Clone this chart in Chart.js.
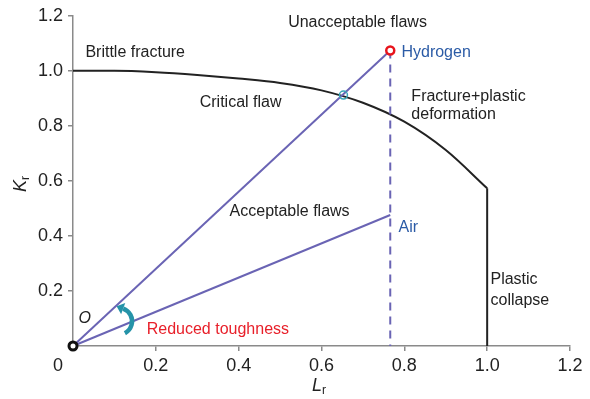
<!DOCTYPE html>
<html lang="en">
<head>
    <meta charset="UTF-8">
    <title>Failure assessment diagram</title>
    <script src="https://cdn.jsdelivr.net/npm/chart.js"></script>
    <style>
        html, body { margin: 0; padding: 0; background: #fff; overflow: hidden; }
        #fad { display: block; width: 590px; height: 399px; }
    </style>
</head>
<body>
    <canvas id="fad" width="590" height="399"></canvas>
    <script>
        // failure assessment curve
        const curveLr = [0, 0.1, 0.2, 0.3, 0.4, 0.5, 0.6, 0.7, 0.8, 0.9, 1.0];
        const curveKr = [1.0, 1.0, 0.995, 0.985, 0.972, 0.956, 0.929, 0.884, 0.815, 0.712, 0.573];
        // plastic collapse cut-off
        const collapseLr = [1.0, 1.0];
        const collapseKr = [0.573, 0];
        // loading paths from the origin
        const hydrogenLr = [0, 0.766];
        const hydrogenKr = [0, 1.074];
        const airLr = [0, 0.766];
        const airKr = [0, 0.476];
        const dashLr = [0.766, 0.766];
        const dashKr = [1.074, 0];
        const criticalLr = [0.653];
        const criticalKr = [0.912];
        const originLr = [0];
        const originKr = [0];
        const tickValues = [0.2, 0.4, 0.6, 0.8, 1.0, 1.2];

        // labels placed in data coordinates
        const notes = [
            { text: 'Unacceptable flaws', x: 0.687, y: 1.175, color: '#222', align: 'center' },
            { text: 'Brittle fracture', x: 0.03, y: 1.066, color: '#222' },
            { text: 'Critical flaw', x: 0.306, y: 0.883, color: '#222' },
            { text: 'Hydrogen', x: 0.793, y: 1.066, color: '#2b5ba6' },
            { text: 'Fracture+plastic', x: 0.817, y: 0.905, color: '#222' },
            { text: 'deformation', x: 0.817, y: 0.84, color: '#222' },
            { text: 'Acceptable flaws', x: 0.378, y: 0.49, color: '#222' },
            { text: 'Air', x: 0.786, y: 0.429, color: '#2b5ba6' },
            { text: 'Plastic', x: 1.008, y: 0.241, color: '#222' },
            { text: 'collapse', x: 1.008, y: 0.166, color: '#222' },
            { text: 'O', x: 0.013, y: 0.101, color: '#222', italic: true },
            { text: 'Reduced toughness', x: 0.178, y: 0.058, color: '#e8202a' }
        ];
        const arrowAt = { x: 0.11, y: 0.09 };

        const pts = (xs, ys) => xs.map((x, i) => ({ x: x, y: ys[i] }));
        const FONT = '"Liberation Sans", Arial, sans-serif';
        const purple = '#6a64b4';

        const annotate = {
            id: 'annotate',
            afterDatasetsDraw(chart) {
                const ctx = chart.ctx;
                const xs = chart.scales.x, ys = chart.scales.y;
                ctx.save();
                ctx.textBaseline = 'middle';
                notes.forEach(n => {
                    ctx.font = (n.italic ? 'italic ' : '') + '16px ' + FONT;
                    ctx.fillStyle = n.color;
                    ctx.textAlign = n.align || 'left';
                    ctx.fillText(n.text, xs.getPixelForValue(n.x), ys.getPixelForValue(n.y));
                });

                // curved arrow
                const cx = xs.getPixelForValue(arrowAt.x), cy = ys.getPixelForValue(arrowAt.y);
                const r = 13.5, a0 = 62 * Math.PI / 180, a1 = -70 * Math.PI / 180;
                ctx.strokeStyle = '#2593a8';
                ctx.fillStyle = '#2593a8';
                ctx.lineWidth = 4.5;
                ctx.beginPath();
                ctx.arc(cx, cy, r, a0, a1, true);
                ctx.stroke();
                const ex = cx + r * Math.cos(a1), ey = cy + r * Math.sin(a1);
                const dx = Math.sin(a1), dy = -Math.cos(a1);
                const nx = -dy, ny = dx;
                ctx.beginPath();
                ctx.moveTo(ex + dx * 7, ey + dy * 7);
                ctx.lineTo(ex + nx * 6, ey + ny * 6);
                ctx.lineTo(ex - nx * 6, ey - ny * 6);
                ctx.closePath();
                ctx.fill();

                // corner zero
                ctx.font = '18px ' + FONT;
                ctx.fillStyle = '#222';
                ctx.textAlign = 'center';
                ctx.fillText('0', xs.left - 15, 366);

                // axis titles with subscripts
                ctx.textAlign = 'left';
                ctx.font = 'italic 18px ' + FONT;
                ctx.fillText('L', 312, 386);
                ctx.font = '12px ' + FONT;
                ctx.fillText('r', 322, 391);
                ctx.translate(21, 192);
                ctx.rotate(-Math.PI / 2);
                ctx.font = 'italic 18px ' + FONT;
                ctx.fillText('K', 0, 0);
                ctx.font = '12px ' + FONT;
                ctx.fillText('r', 12, 5);
                ctx.restore();
            }
        };

        const axisStyle = {
            type: 'linear',
            min: 0,
            max: 1.2,
            grid: { drawOnChartArea: false, drawTicks: true, tickLength: 5, color: '#8a8a8a', lineWidth: 1.5 },
            border: { display: true, color: '#8a8a8a', width: 1.5 }
        };

        new Chart(document.getElementById('fad').getContext('2d'), {
            type: 'line',
            data: {
                datasets: [
                    { data: pts(hydrogenLr.slice(1), hydrogenKr.slice(1)), showLine: false, pointRadius: 4, pointBorderWidth: 2.5, pointBorderColor: '#e8141c', pointBackgroundColor: '#fff', clip: false },
                    { data: pts(criticalLr, criticalKr), showLine: false, pointRadius: 4, pointBorderWidth: 1.5, pointBorderColor: '#3aa5b8', pointBackgroundColor: 'rgba(255,255,255,0)', clip: false },
                    { data: pts(originLr, originKr), showLine: false, pointRadius: 4, pointBorderWidth: 3, pointBorderColor: '#111', pointBackgroundColor: '#fff', clip: false },
                    { data: pts(hydrogenLr, hydrogenKr), borderColor: purple, borderWidth: 2, pointRadius: 0, clip: false },
                    { data: pts(airLr, airKr), borderColor: purple, borderWidth: 2, pointRadius: 0, clip: false },
                    { data: pts(dashLr, dashKr), borderColor: purple, borderWidth: 2, borderDash: [8, 6], pointRadius: 0, clip: false },
                    { data: pts(curveLr, curveKr), borderColor: '#222', borderWidth: 2, pointRadius: 0, cubicInterpolationMode: 'monotone', clip: false },
                    { data: pts(collapseLr, collapseKr), borderColor: '#222', borderWidth: 2, pointRadius: 0, clip: false }
                ]
            },
            options: {
                responsive: false,
                animation: false,
                layout: { padding: { top: 13, right: 20 } },
                plugins: { legend: { display: false }, tooltip: { enabled: false } },
                scales: {
                    x: Object.assign({}, axisStyle, {
                        afterFit(s) { s.height = 53; },
                        afterBuildTicks(s) { s.ticks = [0].concat(tickValues).map(v => ({ value: v })); },
                        ticks: { padding: 4, color: '#222', font: { size: 18, family: FONT }, maxRotation: 0,
                            callback: v => v === 0 ? '' : v.toFixed(1) }
                    }),
                    y: Object.assign({}, axisStyle, {
                        afterFit(s) { s.width = 73; },
                        afterBuildTicks(s) { s.ticks = [0].concat(tickValues).map(v => ({ value: v })); },
                        ticks: { padding: 5, color: '#222', font: { size: 18, family: FONT },
                            callback: v => v === 0 ? '' : v.toFixed(1) }
                    })
                }
            },
            plugins: [annotate]
        });
    </script>
</body>
</html>
